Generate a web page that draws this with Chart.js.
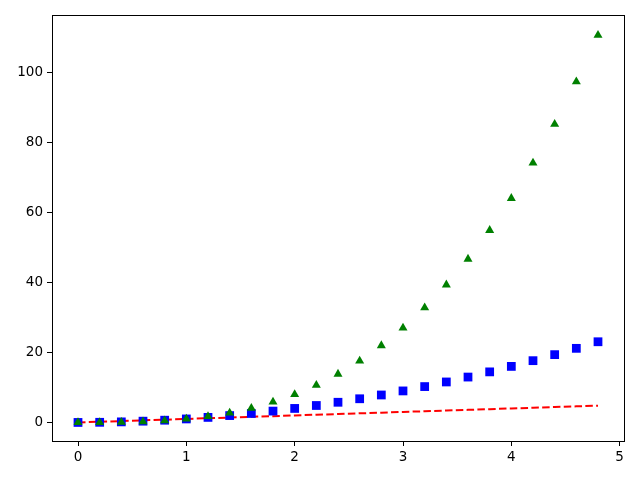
<!DOCTYPE html>
<html>
<head>
<meta charset="utf-8">
<script src="https://cdn.jsdelivr.net/npm/chart.js@4/dist/chart.umd.min.js"></script>
<style>
  html, body { margin: 0; padding: 0; background: #fff; }
  #wrap { width: 640px; height: 480px; }
</style>
</head>
<body>
<div id="wrap"><canvas id="chart" width="640" height="480"></canvas></div>
<script>
// values
const tValues = [0, 0.2, 0.4, 0.6, 0.8, 1, 1.2, 1.4, 1.6, 1.8, 2, 2.2, 2.4, 2.6, 2.8, 3, 3.2, 3.4, 3.6, 3.8, 4, 4.2, 4.4, 4.6, 4.8];
const squareValues = [0, 0.04, 0.16, 0.36, 0.64, 1, 1.44, 1.96, 2.56, 3.24, 4, 4.84, 5.76, 6.76, 7.84, 9, 10.24, 11.56, 12.96, 14.44, 16, 17.64, 19.36, 21.16, 23.04];
const cubeValues = [0, 0.008, 0.064, 0.216, 0.512, 1, 1.728, 2.744, 4.096, 5.832, 8, 10.648, 13.824, 17.576, 21.952, 27, 32.768, 39.304, 46.656, 54.872, 64, 74.088, 85.184, 97.336, 110.592];
const xTicks = [0, 1, 2, 3, 4, 5];
const yTicks = [0, 20, 40, 60, 80, 100];

const toPoints = ys => tValues.map((x, i) => ({ x: x, y: ys[i] }));

// draw the full box like matplotlib spines
const frame = {
    id: 'frame',
    afterDraw(chart) {
        const a = chart.chartArea;
        const ctx = chart.ctx;
        ctx.save();
        ctx.strokeStyle = '#000';
        ctx.lineWidth = 1;
        ctx.strokeRect(Math.round(a.left) + 0.5, Math.round(a.top) + 0.5,
            Math.round(a.right - a.left), Math.round(a.bottom - a.top));
        ctx.restore();
    }
};

const tickFont = { family: 'DejaVu Sans', size: 13.5 };

new Chart(document.getElementById('chart').getContext('2d'), {
    type: 'scatter',
    data: {
        datasets: [
            {
                label: 't^3',
                data: toPoints(cubeValues),
                showLine: false,
                pointStyle: 'triangle',
                pointRadius: 5.2,
                backgroundColor: '#008000',
                borderColor: '#008000',
                borderWidth: 0,
                order: 0
            },
            {
                label: 't^2',
                data: toPoints(squareValues),
                showLine: false,
                pointStyle: 'rect',
                pointRadius: 6.2,
                backgroundColor: '#0000ff',
                borderColor: '#0000ff',
                borderWidth: 0,
                order: 1
            },
            {
                label: 't',
                data: toPoints(tValues),
                showLine: true,
                borderColor: '#ff0000',
                borderWidth: 2,
                borderDash: [7.5, 3.3],
                pointRadius: 0,
                fill: false,
                order: 2
            }
        ]
    },
    options: {
        responsive: false,
        animation: false,
        layout: { padding: { top: 15, right: 16, left: 0, bottom: 0 } },
        plugins: {
            legend: { display: false },
            tooltip: { enabled: false }
        },
        scales: {
            x: {
                type: 'linear',
                min: -0.24,
                max: 5.04,
                afterBuildTicks: s => { s.ticks = xTicks.map(v => ({ value: v })); },
                afterFit: s => { s.height = 39; },
                grid: { drawOnChartArea: false, drawTicks: true, tickLength: 5, color: '#000' },
                border: { display: true, color: '#000' },
                ticks: { color: '#000', font: tickFont, padding: 3, maxRotation: 0 }
            },
            y: {
                type: 'linear',
                min: -5.3,
                max: 116.35,
                afterBuildTicks: s => { s.ticks = yTicks.map(v => ({ value: v })); },
                afterFit: s => { s.width = 52; },
                grid: { drawOnChartArea: false, drawTicks: true, tickLength: 5, color: '#000' },
                border: { display: true, color: '#000' },
                ticks: { color: '#000', font: tickFont, padding: 4 }
            }
        }
    },
    plugins: [frame]
});
</script>
</body>
</html>
